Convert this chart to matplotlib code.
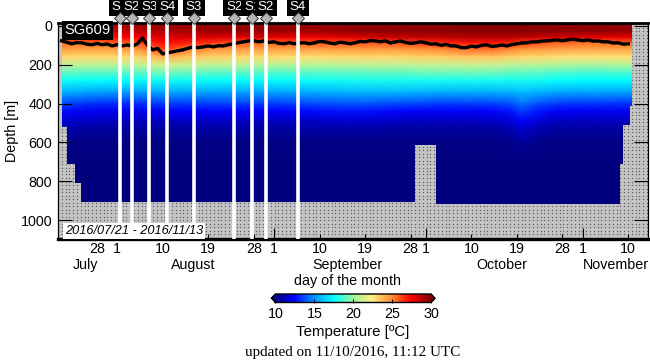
#!/usr/local/bin/python3
"""Glider SG609 temperature section, day numbers count from 1 July 2016"""

#IMPORTS
import numpy as np
import matplotlib
matplotlib.use("Agg")
import matplotlib.pyplot as plt
from matplotlib.colors import LinearSegmentedColormap, Normalize
#END IMPORTS

plt.rcParams['font.family'] = ['Liberation Sans', 'DejaVu Sans']

#Columns of the section
section_days = [19, 25, 30, 35, 40, 45, 50, 55, 60, 65, 70, 75, 80, 85, 90, 95,
                100, 105, 109, 111, 114, 118, 123, 128, 133]
section_depths = [-15, 30, 60, 90, 120, 160, 200, 240, 280, 340, 400, 440, 490, 530, 600, 700, 950]

t_surface = [29.2, 29.2, 29.3, 29.4, 29.6, 29.6, 29.7, 29.7, 29.8, 29.7, 29.7, 29.8, 29.8, 29.8, 29.8, 29.8,
             29.9, 29.9, 29.9, 29.9, 29.9, 29.8, 29.8, 29.8, 29.7]
t_30m = [28.2, 28.3, 28.4, 28.6, 29.0, 29.1, 29.3, 29.4, 29.4, 29.3, 29.2, 29.4, 29.5, 29.6, 29.6, 29.6,
         29.7, 29.7, 29.7, 29.7, 29.6, 29.5, 29.5, 29.5, 29.3]
t_60m = [27.0, 27.0, 27.2, 27.4, 28.0, 28.2, 28.0, 27.9, 28.0, 27.7, 27.6, 27.9, 28.1, 28.4, 28.5, 28.6,
         28.8, 28.9, 28.8, 28.7, 28.5, 28.2, 27.9, 27.9, 27.7]
t_90m = [25.4, 25.4, 25.5, 25.8, 27.2, 26.8, 26.3, 25.8, 25.5, 25.6, 25.8, 25.8, 25.8, 25.8, 26.2, 26.6,
         26.9, 27.0, 26.6, 26.3, 26.0, 25.6, 25.3, 25.4, 25.4]
t_120m = [24.4, 24.4, 24.4, 24.6, 26.3, 25.2, 24.7, 24.5, 24.4, 24.4, 24.4, 24.5, 24.5, 24.5, 24.7, 25.0,
          25.4, 25.5, 25.0, 24.8, 24.6, 24.4, 24.3, 24.3, 24.3]
t_160m = [23.0, 22.9, 22.9, 23.0, 24.0, 23.4, 23.1, 23.0, 22.9, 22.8, 22.8, 22.9, 23.0, 23.0, 23.1, 23.2,
          23.4, 23.4, 23.1, 23.0, 22.9, 22.8, 22.6, 22.7, 22.7]
t_200m = [20.8, 20.8, 20.7, 20.8, 21.4, 21.1, 20.8, 20.8, 20.6, 20.6, 20.7, 20.7, 20.8, 20.8, 20.9, 21.0,
          21.1, 21.1, 20.8, 20.7, 20.7, 20.5, 20.3, 20.4, 20.5]
t_240m = [19.1, 19.0, 19.0, 19.0, 19.4, 19.2, 19.0, 19.0, 18.9, 18.9, 19.0, 19.0, 19.1, 19.1, 19.2, 19.3,
          19.3, 19.3, 19.1, 19.1, 19.0, 18.8, 18.7, 18.7, 18.8]
t_280m = [17.9, 17.7, 17.7, 17.7, 17.9, 17.8, 17.7, 17.7, 17.7, 17.7, 17.8, 17.9, 18.0, 18.0, 18.0, 18.0,
          18.0, 18.0, 17.9, 18.0, 17.9, 17.7, 17.6, 17.6, 17.6]
t_340m = [15.8, 15.4, 15.3, 15.3, 15.5, 15.5, 15.5, 15.4, 15.4, 15.5, 15.7, 15.8, 15.9, 15.9, 15.8, 15.7,
          15.7, 15.7, 15.8, 16.0, 15.8, 15.5, 15.4, 15.4, 15.4]
t_400m = [13.7, 13.3, 13.1, 13.2, 13.4, 13.4, 13.5, 13.5, 13.4, 13.5, 13.7, 13.8, 13.9, 13.7, 13.6, 13.4,
          13.5, 13.5, 13.8, 14.4, 13.8, 13.4, 13.3, 13.3, 13.2]
t_440m = [12.6, 12.2, 12.1, 12.1, 12.3, 12.4, 12.4, 12.4, 12.3, 12.4, 12.6, 12.7, 12.7, 12.5, 12.4, 12.3,
          12.3, 12.4, 12.8, 13.4, 12.8, 12.3, 12.2, 12.2, 12.1]
t_490m = [11.6, 11.3, 11.2, 11.1, 11.2, 11.3, 11.3, 11.3, 11.2, 11.3, 11.4, 11.5, 11.5, 11.3, 11.2, 11.2,
          11.2, 11.3, 11.7, 12.4, 11.7, 11.2, 11.2, 11.2, 11.2]
t_530m = [10.9, 10.7, 10.6, 10.6, 10.7, 10.7, 10.7, 10.7, 10.6, 10.7, 10.8, 10.8, 10.8, 10.7, 10.6, 10.6,
          10.6, 10.7, 11.0, 11.6, 11.0, 10.7, 10.6, 10.6, 10.6]
t_600m = [10.2, 10.1, 10.1, 10.1, 10.1, 10.1, 10.1, 10.1, 10.1, 10.1, 10.1, 10.1, 10.1, 10.1, 10.1, 10.1,
          10.1, 10.1, 10.2, 10.5, 10.2, 10.1, 10.1, 10.1, 10.1]
t_700m = [10.0] * 25
t_950m = [10.0] * 25

#Mixed layer depth, one value a day from 21 July
mld_days = list(range(20, 133))
mld_depth = [77, 84, 92, 86, 87, 94, 97, 90, 97, 93, 103, 96, 103, 98, 104, 92, 62, 100, 123, 116, 144, 138, 133,
             128, 123, 115, 108, 112, 108, 103, 108, 102, 103, 96, 92, 86, 82, 77, 77, 82, 77, 85, 82, 90, 92, 86,
             92, 88, 87, 92, 87, 80, 82, 88, 92, 84, 87, 92, 87, 80, 82, 76, 77, 82, 77, 88, 82, 78, 85, 90, 87, 82,
             87, 94, 92, 100, 95, 103, 103, 112, 112, 104, 108, 100, 97, 106, 103, 98, 103, 96, 92, 88, 87, 82, 82,
             78, 77, 74, 72, 76, 72, 68, 72, 76, 72, 78, 77, 82, 82, 88, 87, 94, 92]

#Seafloor / missing data mask, as steps
bottom_days = [19.3, 20.0, 21.1, 22.7, 23.9, 89.9, 94.1, 130.3, 130.9, 132.4, 132.8, 136.0]
bottom_depths = [-20, 518, 713, 810, 908, 614, 916, 713, 511, 410, -20, -20]

#Stations along the track
station_days = [31.5, 33.9, 37.3, 40.9, 46.1, 54.1, 57.7, 60.4, 66.7]
station_names = ["S1", "S2", "S3", "S4", "S3", "S2", "S1", "S2", "S4"]

#Axis labels
depth_ticks = [0, 200, 400, 600, 800, 1000]
day_ticks = [27, 31, 40, 49, 58, 62, 71, 80, 89, 92, 101, 110, 119, 123, 132]
day_labels = ["28", "1", "10", "19", "28", "1", "10", "19", "28", "1", "10", "19", "28", "1", "10"]
month_days = [24.7, 46.1, 76.5, 107.0, 129.6]
month_names = ["July", "August", "September", "October", "November"]
temp_ticks = [10, 15, 20, 25, 30]
cmap_colors = [(0.0, '#00007f'), (0.12, '#0000ff'), (0.25, '#0096ff'), (0.38, '#00ffff'), (0.5, '#a0f5a0'),
               (0.62, '#ffee80'), (0.75, '#ff8a30'), (0.87, '#ff0000'), (1.0, '#7f0000')]


def buildSection():
    """Stacks the depth rows into one array of depth by time"""
    rows = [t_surface, t_30m, t_60m, t_90m, t_120m, t_160m, t_200m, t_240m, t_280m,
            t_340m, t_400m, t_440m, t_490m, t_530m, t_600m, t_700m, t_950m]
    return np.array(rows)
#END DEF


fig = plt.figure(figsize=(6.5, 3.61), dpi=100)
W, H = 650.0, 361.0
ax = fig.add_axes([58/W, 1-239/H, 590/W, 216/H])
ax.set_xlim(19.3, 135.9)
ax.set_ylim(1097, -15)
ax.set_axisbelow(False)

#Section itself
cmap = LinearSegmentedColormap.from_list("section", cmap_colors, N=512)
norm = Normalize(10, 30)
X, Y = np.meshgrid(section_days, section_depths)
mesh = ax.pcolormesh(X, Y, buildSection(), cmap=cmap, norm=norm, shading='gouraud', zorder=1)

#Grey mask with its dots
mask = ax.fill_between(bottom_days, bottom_depths, 1100, step='post', color='#c4c4c4', lw=0, zorder=2)
dotX, dotY = np.meshgrid(np.arange(58, 650, 3.8), np.arange(24, 240, 3.5))
dots, = ax.plot(dotX.ravel()/W, 1-dotY.ravel()/H, ls='none', marker='o', ms=1.0, mew=0,
                color='#606060', transform=fig.transFigure, zorder=2.2)
dots.set_snap(False)
dots.set_clip_path(mask.get_paths()[0], ax.transData)

#Mixed layer depth
ax.plot(mld_days, mld_depth, color='black', lw=2.4, zorder=4)

#White station lines, boxes and diamonds over the top
for day in station_days:
    ax.axvline(day, color='white', lw=2.6, zorder=5)
ytop = ax.get_xaxis_transform()
for i, (day, name) in enumerate(zip(station_days, station_names)):
    ax.text(day, 1.074, name, transform=ytop, color='white', fontsize=9.5, ha='center', va='center',
            bbox=dict(facecolor='black', edgecolor='none', pad=2.0), zorder=10+i, clip_on=False)
    ax.plot([day], [1.023], marker='D', ms=6, mfc='#b5b5b5', mec='#333333', mew=0.7, transform=ytop,
            clip_on=False, zorder=30)

#Boxes with text inside the axes
ax.text(64.5/W, 1-30.5/H, "SG609", transform=fig.transFigure, color='white', fontsize=10.6, va='center',
        bbox=dict(facecolor='black', edgecolor='none', pad=1.5), zorder=8)
ax.text(65/W, 1-231/H, "2016/07/21 - 2016/11/13", transform=fig.transFigure, fontsize=9.2, style='italic',
        va='center', bbox=dict(facecolor='white', edgecolor='none', pad=1.5), zorder=8)

#Axes furniture
ax.set_yticks(depth_ticks)
ax.tick_params(axis='y', which='major', direction='in', length=10, width=0.8, left=True, right=True,
               labelsize=10.3, pad=4)
ax.set_xticks(day_ticks)
ax.set_xticklabels(day_labels)
ax.tick_params(axis='x', which='major', direction='in', length=3.5, width=0.8, labelsize=10.3, pad=2.5)
for tick, label in zip(ax.xaxis.get_major_ticks(), day_labels):
    if label == "1":
        tick.tick1line.set_markersize(8)
ax.set_ylabel("Depth [m]", fontsize=10.3, labelpad=1)
for side in ['left', 'right']:
    ax.spines[side].set_linewidth(0.9)
ax.spines['top'].set_linewidth(2)
ax.spines['bottom'].set_linewidth(2.4)
for day, name in zip(month_days, month_names):
    ax.text(day, -0.12, name, transform=ax.get_xaxis_transform(), fontsize=10.3, ha='center', va='center')
fig.text(347/W, 1-281/H, "day of the month", fontsize=10.3, ha='center', va='center')

#Colorbar
cax = fig.add_axes([271.5/W, 1-302.5/H, 163.5/W, 8.5/H])
cb = fig.colorbar(mesh, cax=cax, orientation='horizontal', extend='both', extendfrac=0.025)
cb.set_ticks(temp_ticks)
cb.ax.tick_params(direction='in', length=3, width=0.7, labelsize=10.3, pad=3)
cb.outline.set_linewidth(1)
fig.text(353/W, 1-332/H, "Temperature [ºC]", fontsize=10.8, ha='center', va='center')
fig.text(353/W, 1-352.5/H, "updated on 11/10/2016, 11:12 UTC", fontsize=10.9, ha='center', va='center',
         family='Liberation Serif')

fig.savefig("out.png", dpi=100)
